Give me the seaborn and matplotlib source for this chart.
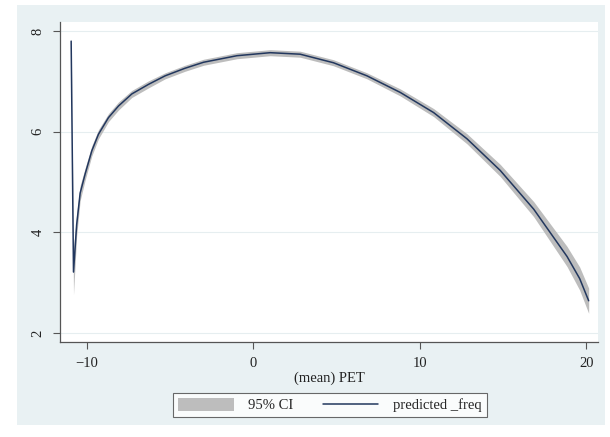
import numpy as np
import matplotlib
matplotlib.use("Agg")
import matplotlib.pyplot as plt
from matplotlib.patches import Rectangle, Patch
from matplotlib.lines import Line2D
import seaborn as sns
import pandas as pd

# values
pet = [-10.93, -10.79, -10.60, -10.39, -10.09, -9.69, -9.29, -8.69, -8.09, -7.29,
       -6.29, -5.29, -4.10, -2.98, -0.98, 1.02, 2.82, 4.82, 6.83, 8.83,
       10.83, 12.83, 14.83, 16.84, 18.84, 19.60, 20.14]
pred_freq = [7.80, 3.21, 4.15, 4.78, 5.16, 5.62, 5.95, 6.28, 6.51, 6.75,
             6.94, 7.11, 7.26, 7.38, 7.51, 7.57, 7.54, 7.37, 7.11, 6.78,
             6.38, 5.86, 5.23, 4.46, 3.52, 3.08, 2.64]
ci_half = [0.06, 0.45, 0.22, 0.15, 0.12, 0.10, 0.09, 0.08, 0.08, 0.07,
           0.07, 0.06, 0.06, 0.06, 0.06, 0.06, 0.06, 0.06, 0.06, 0.07,
           0.08, 0.10, 0.12, 0.15, 0.20, 0.23, 0.25]

df = pd.DataFrame({"pet": pet, "pred": pred_freq, "half": ci_half})
df["lo"] = df["pred"] - df["half"]
df["hi"] = df["pred"] + df["half"]

sns.set_style("white")
plt.rcParams["font.family"] = ["Liberation Serif", "DejaVu Serif"]

bg = "#e9f1f3"
line_col = "#22375e"
ci_col = "#bdbdbd"

fig = plt.figure(figsize=(6.1, 4.37), dpi=100, facecolor="white")
fig.patches.append(Rectangle((17 / 610, 1 - 425 / 437), 588 / 610, 420 / 437,
                             transform=fig.transFigure, facecolor=bg,
                             edgecolor="none", zorder=-10))
ax = fig.add_axes([60 / 610, 1 - 342 / 437, 538 / 610, 320 / 437])
ax.set_facecolor("white")

ax.fill_between(df["pet"], df["lo"], df["hi"], color=ci_col, lw=0, zorder=2)
sns.lineplot(data=df, x="pet", y="pred", color=line_col, lw=1.1, ax=ax,
             sort=False, zorder=3)

ax.set_xlim(-11.6, 20.7)
ax.set_ylim(1.82, 8.18)
ax.set_xticks([-10, 0, 10, 20])
ax.set_yticks([2, 4, 6, 8])
ax.set_yticklabels(["2", "4", "6", "8"], rotation=90, va="center")
ax.yaxis.grid(True, color="#e6eef0", lw=0.8)
ax.xaxis.grid(False)
ax.set_axisbelow(True)

for s in ["top", "right"]:
    ax.spines[s].set_visible(False)
for s in ["left", "bottom"]:
    ax.spines[s].set_color("#555555")
    ax.spines[s].set_linewidth(0.9)

ax.tick_params(axis="both", direction="out", length=5, width=0.8, color="#555555",
               labelsize=10.5, labelcolor="#222222", left=True, bottom=True)
ax.tick_params(axis="x", pad=6)
ax.tick_params(axis="y", pad=6)
ax.set_xlabel("(mean) PET", fontsize=10.5, color="#222222", labelpad=1)
ax.set_ylabel("")

handles = [Patch(facecolor=ci_col, edgecolor="none"),
           Line2D([], [], color=line_col, lw=1.1)]
leg = fig.legend(handles, ["95% CI", "predicted _freq"], loc="center",
                 bbox_to_anchor=(330 / 610, 1 - 405 / 437), ncol=2,
                 fontsize=10.5, frameon=True, fancybox=False,
                 handlelength=3.8, handleheight=1.0, columnspacing=2.0,
                 borderpad=0.35, handletextpad=1.0)
leg.get_frame().set_edgecolor("#444444")
leg.get_frame().set_linewidth(0.8)
leg.get_frame().set_facecolor("white")

fig.savefig("out.png", dpi=100, facecolor=fig.get_facecolor())
